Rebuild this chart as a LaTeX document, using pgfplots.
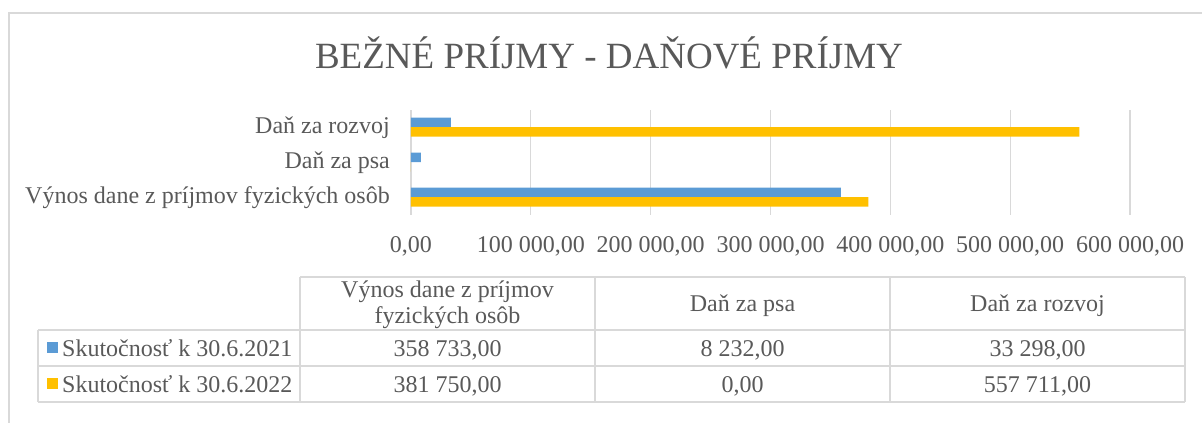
\documentclass[border=0pt]{standalone}
\usepackage{fontspec}
\setmainfont{Liberation Serif}
\usepackage{pgfplots}
\pgfplotsset{compat=1.18}
\definecolor{cblue}{HTML}{5B9BD5}
\definecolor{corange}{HTML}{FFC000}
\definecolor{ctext}{HTML}{595959}
\definecolor{cgrid}{HTML}{D9D9D9}
\newcommand\T{\fontsize{24bp}{29bp}\selectfont}
\begin{document}
\begin{tikzpicture}
\useasboundingbox (0,0) rectangle (1202bp,-423bp);
% chart frame
\draw[cgrid, line width=1.5bp] (9bp,-423bp) -- (9bp,-13bp) -- (1202bp,-13bp);
% title
\node[anchor=base, text=ctext, inner sep=0pt, font=\fontsize{37bp}{44bp}\selectfont] at (609bp,-68bp) {BEŽNÉ PRÍJMY - DAŇOVÉ PRÍJMY};
\begin{axis}[
  at={(411bp,-214.5bp)}, anchor=south west,
  scale only axis, width=719bp, height=105bp,
  xmin=0, xmax=600000, ymin=-0.5, ymax=2.5,
  scaled x ticks=false,
  axis line style={draw=none},
  major tick length=0pt,
  xtick={0,100000,200000,300000,400000,500000,600000},
  xticklabels={{0,00},{100 000,00},{200 000,00},{300 000,00},{400 000,00},{500 000,00},{600 000,00}},
  ytick={0,1,2},
  yticklabels={Výnos dane z príjmov fyzických osôb, Daň za psa, Daň za rozvoj},
  xmajorgrids, ymajorgrids=false,
  grid style={cgrid, line width=1.2bp},
  xticklabel style={font=\T, text=ctext, anchor=base, inner sep=0pt, yshift=-37.5bp},
  yticklabel style={font=\T, text=ctext, anchor=base east, inner sep=0pt, xshift=-21bp, yshift=-6.5bp},
  clip=false,
]
\addplot[xbar, bar width=9.5bp, bar shift=4.75bp, fill=cblue, draw=none] coordinates {(358733,0) (8232,1) (33298,2)};
\addplot[xbar, bar width=9.5bp, bar shift=-4.75bp, fill=corange, draw=none] coordinates {(381750,0) (0,1) (557711,2)};
\end{axis}
% data table
\begin{scope}[cgrid, line width=1.5bp]
\draw (300bp,-277bp) -- (1185bp,-277bp);
\draw (38bp,-330bp) -- (1185bp,-330bp);
\draw (38bp,-366bp) -- (1185bp,-366bp);
\draw (38bp,-402bp) -- (1185bp,-402bp);
\draw (38bp,-330bp) -- (38bp,-402bp);
\foreach \x in {300,595,890,1185} \draw (\x bp,-277bp) -- (\x bp,-402bp);
\end{scope}
\begin{scope}[every node/.style={font=\T, text=ctext, inner sep=0pt, anchor=base}]
\node at (447.5bp,-297bp) {Výnos dane z príjmov};
\node at (447.5bp,-323bp) {fyzických osôb};
\node at (742.5bp,-311bp) {Daň za psa};
\node at (1037.5bp,-311bp) {Daň za rozvoj};
\node at (447.5bp,-356bp) {358 733,00};
\node at (742.5bp,-356bp) {8 232,00};
\node at (1037.5bp,-356bp) {33 298,00};
\node at (447.5bp,-392bp) {381 750,00};
\node at (742.5bp,-392bp) {0,00};
\node at (1037.5bp,-392bp) {557 711,00};
\node[anchor=base west] at (62bp,-356bp) {Skutočnosť k 30.6.2021};
\node[anchor=base west] at (62bp,-392bp) {Skutočnosť k 30.6.2022};
\end{scope}
\fill[cblue] (47bp,-342bp) rectangle (58bp,-353bp);
\fill[corange] (47bp,-378bp) rectangle (58bp,-389bp);
\end{tikzpicture}
\end{document}
